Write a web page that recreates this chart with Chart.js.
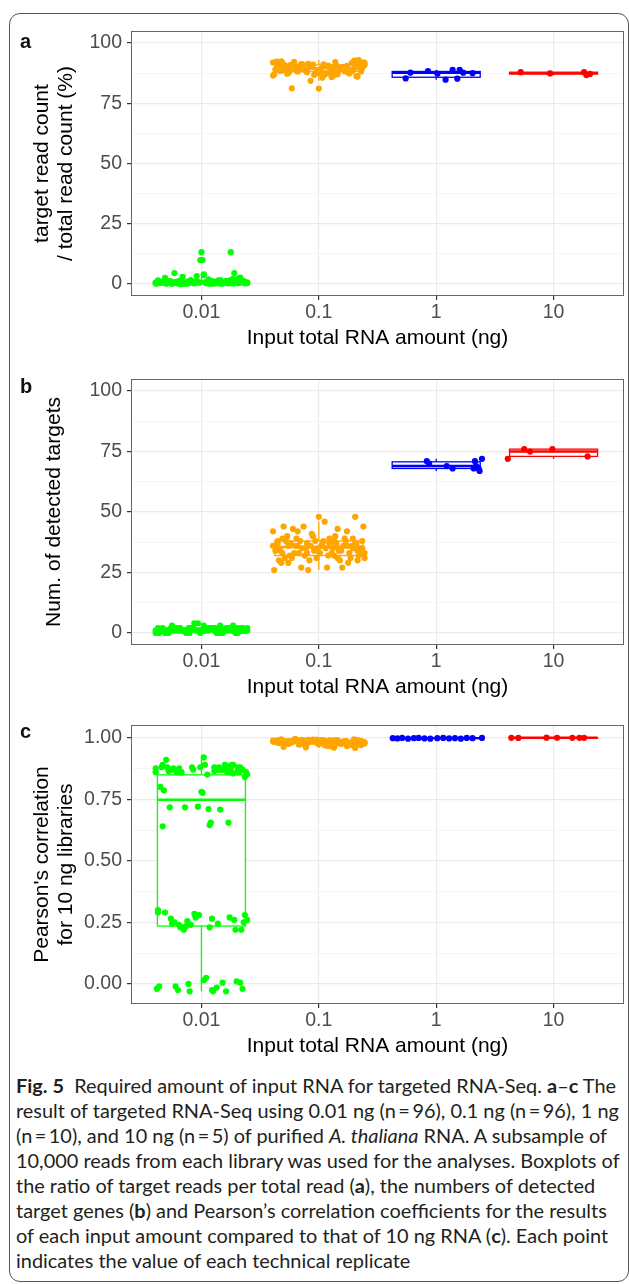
<!DOCTYPE html>
<html>
<head>
<meta charset="utf-8">
<script src="https://cdn.jsdelivr.net/npm/chart.js@4.4.1/dist/chart.umd.min.js"></script>
<style>
  html, body { margin: 0; padding: 0; background: #fff; }
  body { width: 629px; height: 1284px; position: relative; overflow: hidden; }
  .frame { position: absolute; left: 9px; top: 13px; width: 620px; height: 1269px; border: 1px solid #555; border-radius: 11px; box-sizing: border-box; }
  canvas { position: absolute; left: 0; }
  .tag { position: absolute; left: 20px; font: bold 20px 'Liberation Sans', Arial, sans-serif; line-height: 20px; color: #111; }
  .caption { position: absolute; left: 16px; top: 1074px; font-family: Lato, 'Open Sans', sans-serif; font-size: 18.5px; line-height: 25px; color: #231f20; transform-origin: 0 0; }
  .caption div { white-space: nowrap; }
</style>
</head>
<body>
<div class="frame"></div>
<canvas id="chartA" width="629" height="350" style="top:0"></canvas>
<canvas id="chartB" width="629" height="349" style="top:350px"></canvas>
<canvas id="chartC" width="629" height="359" style="top:699px"></canvas>
<div class="tag" style="top:31px">a</div>
<div class="tag" style="top:376px">b</div>
<div class="tag" style="top:721px">c</div>
<div class="caption" id="caption">
  <div><b>Fig. 5</b>&nbsp; Required amount of input RNA for targeted RNA-Seq. <b>a</b>–<b>c</b> The</div>
  <div>result of targeted RNA-Seq using 0.01 ng (n&thinsp;=&thinsp;96), 0.1 ng (n&thinsp;=&thinsp;96), 1 ng</div>
  <div>(n&thinsp;=&thinsp;10), and 10 ng (n&thinsp;=&thinsp;5) of purified <i>A. thaliana</i> RNA. A subsample of</div>
  <div>10,000 reads from each library was used for the analyses. Boxplots of</div>
  <div>the ratio of target reads per total read (<b>a</b>), the numbers of detected</div>
  <div>target genes (<b>b</b>) and Pearson’s correlation coefficients for the results</div>
  <div>of each input amount compared to that of 10 ng RNA (<b>c</b>). Each point</div>
  <div>indicates the value of each technical replicate</div>
</div>
<script>
Chart.defaults.font.family = "'Liberation Sans', Arial, sans-serif";
Chart.defaults.color = '#4d4d4d';

const groups = ['0.01', '0.1', '1', '10'];
const colours = ['#00ff00', '#ffa500', '#0000ff', '#ff0000'];

// horizontal jitter (category units) of the two big groups
const jitLow = [-0.38, 0.12, -0.05, 0.31, -0.22, 0.07, 0.36, -0.14, 0.22, -0.31,
  0.02, 0.27, -0.09, -0.35, 0.17, 0.39, -0.27, 0.05, -0.18, 0.33,
  0.10, -0.02, -0.39, 0.24, -0.11, 0.15, 0.35, -0.25, 0.00, -0.33,
  0.20, 0.29, -0.07, -0.20, 0.38, 0.09, -0.29, 0.13, -0.16, 0.25,
  0.03, -0.37, 0.32, -0.12, 0.18, -0.24, 0.06, 0.37, -0.03, -0.30,
  0.21, -0.19, 0.11, 0.34, -0.36, 0.01, -0.08, 0.28, -0.26, 0.16,
  0.39, -0.13, 0.08, -0.34, 0.23, -0.04, 0.30, -0.21, 0.14, -0.39,
  0.04, 0.26, -0.15, -0.28, 0.35, 0.19, -0.06, -0.32, 0.11, 0.37,
  -0.23, 0.02, -0.10, 0.31, -0.37, 0.22, 0.07, -0.17, 0.33, -0.01,
  -0.26, 0.15, 0.27, -0.33, 0.09, -0.19];
const jitMid = [0.21, -0.33, 0.04, -0.12, 0.36, -0.27, 0.15, -0.02, 0.29, -0.38,
  0.09, -0.18, 0.33, -0.07, 0.24, -0.30, 0.01, 0.39, -0.22, 0.12,
  -0.35, 0.18, -0.10, 0.30, -0.04, 0.07, -0.25, 0.37, -0.15, 0.26,
  -0.39, 0.13, -0.01, 0.34, -0.20, 0.05, -0.31, 0.22, -0.08, 0.31,
  -0.36, 0.16, 0.00, -0.23, 0.38, -0.13, 0.10, -0.28, 0.27, -0.05,
  0.19, -0.34, 0.03, 0.35, -0.17, 0.14, -0.26, 0.25, -0.09, 0.32,
  -0.37, 0.08, -0.19, 0.28, -0.03, 0.17, -0.32, 0.39, -0.11, 0.23,
  -0.24, 0.06, 0.33, -0.16, 0.11, -0.39, 0.20, -0.06, 0.36, -0.21,
  0.02, -0.29, 0.29, -0.14, 0.16, -0.35, 0.24, -0.01, 0.31, -0.26,
  0.09, -0.10, 0.37, -0.31, 0.13, -0.18];

// panel a: target read count / total read count (%)
const aLow = [0.2, 0.5, 1.1, 0.3, 0.8, 0.1, 1.3, 0.4, 0.9, 2.5,
  4.0, 0.2, 1.6, 0.6, 0.1, 0.3, 1.2, 0.7, 0.0, 2.6,
  1.0, 0.5, 0.2, 1.4, 0.3, 0.8, 1.1, 0.1, 13.2, 0.9,
  0.4, 1.7, 0.6, 0.2, 0.5, 1.2, 0.8, 0.3, 2.9, 13.2,
  0.7, 1.5, 0.4, 1.0, 0.2, 0.6, 1.9, 0.3, 0.9, 0.1,
  1.3, 0.5, 0.2, 1.0, 0.4, 9.9, 0.8, 4.5, 0.3, 1.6,
  0.7, 0.1, 1.1, 0.5, 0.2, 3.3, 0.9, 0.4, 1.4, 0.6,
  0.3, 1.8, 0.1, 0.8, 1.2, 0.5, 0.2, 1.0, 0.7, 0.3,
  4.5, 3.7, 0.6, 2.1, 0.9, 0.4, 1.5, 0.2, 0.6, 9.9,
  1.1, 0.3, 2.0, 0.7, 0.1, 1.3];
const aMid = [90.1, 88.4, 91.2, 89.0, 92.0, 87.3, 90.6, 88.9, 91.5, 87.0,
  89.8, 88.2, 86.1, 84.3, 90.3, 89.4, 87.6, 91.8, 90.9, 88.7,
  91.0, 89.2, 87.9, 92.6, 86.8, 90.5, 88.1, 89.6, 91.3, 87.4,
  86.5, 90.0, 88.6, 92.9, 89.1, 86.9, 91.6, 88.3, 90.7, 89.9,
  92.3, 87.7, 81.1, 81.2, 91.9, 89.3, 87.2, 90.4, 88.0, 91.1,
  89.7, 90.8, 85.6, 90.2, 88.8, 92.1, 89.5, 87.8, 91.4, 86.3,
  89.0, 90.6, 88.5, 91.7, 87.1, 89.8, 92.4, 90.9, 88.4, 89.2,
  91.0, 87.5, 90.3, 88.9, 85.9, 91.9, 89.6, 90.1, 88.2, 92.2,
  89.4, 90.7, 88.6, 91.2, 87.0, 89.9, 90.5, 88.1, 92.7, 87.6,
  90.0, 89.1, 91.5, 88.7, 86.7, 90.2];
const aOneJit = [-0.26, -0.22, -0.07, 0.01, 0.08, 0.14, 0.18, 0.20, 0.23, 0.31];
const aOne = [85.3, 87.7, 88.4, 87.3, 84.8, 88.9, 85.2, 88.9, 87.7, 87.5];
const aTenJit = [-0.28, -0.03, 0.26, 0.28, 0.31];
const aTen = [87.9, 87.4, 87.9, 86.7, 87.2];
// box stats per group: lower whisker, q1, median, q3, upper whisker
const aBoxes = [[0, 0.3, 0.7, 1.3, 2.8], [84.3, 88.2, 89.6, 90.9, 93.0],
  [84.8, 85.8, 87.6, 88.2, 88.9], [86.7, 87.2, 87.4, 87.9, 87.9]];

// panel b: number of detected targets
const bLow = [1, 2, 1, 0, 1, 2, 1, 1, 2, 0,
  1, 1, 2, 1, 0, 2, 1, 1, 2, 1,
  2, 1, 0, 1, 2, 1, 1, 3, 1, 2,
  1, 0, 2, 1, 1, 2, 1, 0, 1, 2,
  1, 2, 1, 1, 0, 2, 1, 1, 4, 1,
  2, 1, 1, 2, 0, 1, 2, 1, 1, 3,
  1, 0, 2, 1, 2, 1, 1, 2, 0, 1,
  2, 1, 1, 0, 2, 1, 4, 1, 2, 1,
  1, 3, 0, 2, 1, 1, 2, 1, 1, 0,
  2, 1, 3, 1, 2, 1];
const bMid = [36, 34, 38, 32, 33, 40, 37, 31, 35, 26,
  39, 42, 34, 36, 42, 44, 33, 31, 43, 35,
  38, 30, 37, 36, 34, 27, 32, 38, 27, 33,
  42, 38, 35, 32, 36, 46, 33, 39, 30, 48,
  35, 43, 48, 31, 44, 44, 36, 38, 31, 40,
  34, 30, 37, 35, 33, 40, 36, 29, 26, 37,
  34, 32, 39, 36, 38, 34, 29, 33, 35, 38,
  37, 35, 30, 38, 33, 36, 27, 41, 35, 33,
  36, 31, 39, 35, 31, 37, 36, 34, 37, 29,
  37, 33, 35, 39, 32, 36];
const bOneJit = [-0.08, -0.06, 0.09, 0.14, 0.33, 0.32, 0.36, 0.37, 0.39, 0.34];
const bOne = [71, 70, 69, 68, 71, 68, 68, 67, 72, 69];
const bTenJit = [-0.39, -0.25, -0.20, -0.01, 0.29];
const bTen = [72, 76, 75, 76, 73];
const bBoxes = [[0, 1, 1, 2, 3], [26, 32, 35.5, 38, 46],
  [67, 68, 69, 70.75, 72], [72, 73, 75, 76, 76]];

// panel c: Pearson's correlation with the 10 ng libraries
const cLow = [-0.02, 0.87, 0.27, 0.88, -0.01, 0.645, 0.25, 0.717, 0.86, 0.29,
  0.015, 0.89, 0.24, 0.80, 0.87, 0.26, 0.717, 0.85, 0.23, 0.88,
  -0.03, 0.28, 0.86, 0.27, 0.00, 0.88, 0.87, 0.245, 0.78, 0.64,
  0.89, 0.22, 0.87, -0.025, 0.86, 0.265, 0.88, -0.015, 0.23, 0.87,
  0.89, 0.30, 0.86, 0.255, 0.005, 0.875, 0.71, 0.28, 0.72, 0.91,
  -0.03, 0.24, 0.865, 0.22, -0.01, 0.776, 0.88, 0.26, 0.87, 0.708,
  0.85, 0.235, 0.655, 0.88, 0.655, 0.275, 0.01, 0.86, 0.245, 0.875,
  0.025, 0.89, 0.22, 0.865, -0.02, 0.87, 0.285, 0.786, 0.88, 0.84,
  0.25, 0.92, -0.03, 0.87, 0.29, 0.885, 0.23, 0.86, 0.005, 0.88,
  0.265, 0.87, 0.855, 0.89, -0.025, 0.875];
const cMid = [0.985, 0.978, 0.990, 0.972, 0.987, 0.981, 0.976, 0.992, 0.969, 0.984,
  0.979, 0.988, 0.974, 0.986, 0.982, 0.963, 0.990, 0.977, 0.985, 0.971,
  0.989, 0.980, 0.975, 0.993, 0.983, 0.967, 0.986, 0.978, 0.991, 0.973,
  0.984, 0.988, 0.976, 0.981, 0.995, 0.970, 0.987, 0.979, 0.983, 0.958,
  0.986, 0.990, 0.974, 0.982, 0.977, 0.988, 0.965, 0.985, 0.980, 0.992,
  0.975, 0.984, 0.987, 0.979, 0.972, 0.989, 0.983, 0.976, 0.991, 0.968,
  0.985, 0.981, 0.988, 0.974, 0.986, 0.978, 0.993, 0.982, 0.961, 0.987,
  0.979, 0.984, 0.990, 0.973, 0.983, 0.988, 0.977, 0.985, 0.970, 0.991,
  0.981, 0.986, 0.976, 0.989, 0.984, 0.979, 0.966, 0.987, 0.982, 0.975,
  0.990, 0.983, 0.978, 0.986, 0.960, 0.984];
const cOneJit = [-0.37, -0.33, -0.29, -0.24, -0.19, -0.15, -0.10, -0.05, 0.01, 0.06, 0.11, 0.16, 0.21, 0.26, 0.31, 0.39];
const cOne = [0.998, 0.997, 0.999, 0.996, 0.998, 0.999, 0.997, 0.996, 0.998, 0.999, 0.997, 0.998, 0.996, 0.999, 0.998, 0.999];
const cTenJit = [-0.36, -0.30, -0.06, 0.03, 0.16, 0.22, 0.26];
const cTen = [0.9995, 0.9992, 1.0, 0.9997, 0.9994, 0.9996, 0.9993];
const cBoxes = [[-0.03, 0.235, 0.748, 0.849, 0.92], [0.958, 0.976, 0.983, 0.989, 0.998],
  [0.996, 0.997, 0.998, 0.999, 0.999], [0.9992, 0.9993, 0.9995, 0.9996, 0.9997]];

// axis ticks
const pctMajor = [0, 25, 50, 75, 100];
const pctMinor = [12.5, 37.5, 62.5, 87.5];
const corMajor = [0, 0.25, 0.5, 0.75, 1];
const corMinor = [0.125, 0.375, 0.625, 0.875];


function toPoints(jit, vals, g) {
  return vals.map((v, i) => ({x: g + 1 + jit[i], y: v}));
}

function boxPlugin(stats) {
  return {
    id: 'boxes',
    beforeDatasetsDraw(chart) {
      const {ctx, scales: {x, y}} = chart;
      stats.forEach((s, g) => {
        const cx = x.getPixelForValue(g + 1);
        const hw = x.getPixelForValue(g + 1.375) - cx;
        const [lo, q1, med, q3, hi] = s.map(v => y.getPixelForValue(v));
        ctx.save();
        ctx.strokeStyle = colours[g];
        ctx.fillStyle = '#fff';
        ctx.lineWidth = 1.3;
        ctx.beginPath();
        ctx.moveTo(cx, q3); ctx.lineTo(cx, hi);
        ctx.moveTo(cx, q1); ctx.lineTo(cx, lo);
        ctx.stroke();
        ctx.fillRect(cx - hw, q3, 2 * hw, q1 - q3);
        ctx.strokeRect(cx - hw, q3, 2 * hw, q1 - q3);
        ctx.lineWidth = 2.4;
        ctx.beginPath();
        ctx.moveTo(cx - hw, med); ctx.lineTo(cx + hw, med);
        ctx.stroke();
        ctx.restore();
      });
    },
    afterDraw(chart) {
      const {ctx, chartArea: a} = chart;
      ctx.save();
      ctx.strokeStyle = '#666';
      ctx.lineWidth = 1;
      ctx.strokeRect(a.left + 0.5, a.top + 0.5, a.right - a.left - 1, a.bottom - a.top - 1);
      ctx.restore();
    }
  };
}

function makePanel(id, padTop, series, stats, y) {
  const datasets = series.map((s, g) => ({
    data: toPoints(s[0], s[1], g),
    backgroundColor: colours[g],
    pointRadius: 3.1,
    pointBorderWidth: 0,
    pointHoverRadius: 3.1
  }));
  const ticks = y.major.concat(y.minor);
  return new Chart(document.getElementById(id), {
    type: 'scatter',
    data: {datasets: datasets},
    options: {
      responsive: false,
      animation: false,
      devicePixelRatio: 1,
      layout: {padding: {top: padTop, right: 5, bottom: 0, left: 0}},
      plugins: {legend: {display: false}, tooltip: {enabled: false}},
      scales: {
        x: {
          type: 'linear',
          min: 0.4,
          max: 4.6,
          afterBuildTicks: s => { s.ticks = groups.map((g, i) => ({value: i + 1})); },
          afterFit: s => { s.height = 54; s.paddingLeft = 0; s.paddingRight = 0; },
          ticks: {
            callback: (v, i) => groups[i],
            autoSkip: false, maxRotation: 0, padding: 1,
            color: '#4d4d4d', font: {size: 19.5}
          },
          grid: {color: '#ebebeb', lineWidth: 1.2, tickColor: '#333', tickLength: 4},
          border: {display: false},
          title: {
            display: true, text: 'Input total RNA amount (ng)', color: '#000',
            font: {size: 21, lineHeight: 1.15}, padding: 0
          }
        },
        y: {
          type: 'linear',
          min: y.min,
          max: y.max,
          afterBuildTicks: s => { s.ticks = ticks.map(v => ({value: v})); },
          afterFit: s => { s.width = 131; s.paddingTop = 0; s.paddingBottom = 0; },
          ticks: {
            callback: v => y.major.includes(v) ? y.fmt(v) : '',
            autoSkip: false, padding: 5,
            color: '#4d4d4d', font: {size: 19.5}
          },
          grid: {
            color: c => y.major.includes(c.tick.value) ? '#ebebeb' : '#f4f4f4',
            lineWidth: c => y.major.includes(c.tick.value) ? 1.2 : 0.8,
            tickColor: c => y.major.includes(c.tick.value) ? '#333' : 'rgba(0,0,0,0)',
            tickLength: 4
          },
          border: {display: false},
          title: {
            display: true, text: y.title, color: '#000',
            font: {size: 21, lineHeight: 1.15}, padding: {top: y.titlePad, bottom: 0}
          }
        }
      }
    },
    plugins: [boxPlugin(stats)]
  });
}

makePanel('chartA', 31,
  [[jitLow, aLow], [jitMid, aMid], [aOneJit, aOne], [aTenJit, aTen]], aBoxes,
  {min: -5, max: 105, major: pctMajor, minor: pctMinor, fmt: v => String(v),
   title: ['target read count', '/ total read count (%)'], titlePad: 30});

makePanel('chartB', 29,
  [[jitLow, bLow], [jitMid, bMid], [bOneJit, bOne], [bTenJit, bTen]], bBoxes,
  {min: -5, max: 105, major: pctMajor, minor: pctMinor, fmt: v => String(v),
   title: 'Num. of detected targets', titlePad: 42});

makePanel('chartC', 26,
  [[jitLow, cLow], [jitMid, cMid], [cOneJit, cOne], [cTenJit, cTen]], cBoxes,
  {min: -0.0815, max: 1.0515, major: corMajor, minor: corMinor, fmt: v => v.toFixed(2),
   title: ["Pearson's correlation", 'for 10 ng libraries'], titlePad: 30});

// squeeze the caption so its longest line spans the same width as in the figure
const cap = document.getElementById('caption');
const widest = Math.max(...Array.from(cap.children).map(d => d.scrollWidth));
cap.style.transform = 'scaleX(' + (604 / widest) + ')';
</script>
</body>
</html>
